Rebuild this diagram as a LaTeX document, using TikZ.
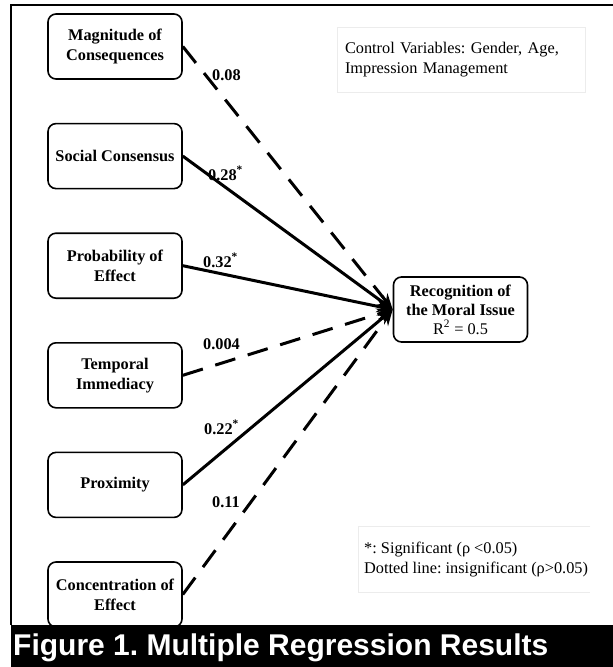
\documentclass[tikz,border=0pt]{standalone}
\usepackage{fontspec}
\setmainfont{Liberation Serif}
\newfontfamily\captionfont{Liberation Sans}
\usepackage{tikz}
\usetikzlibrary{positioning,arrows.meta}
\frenchspacing

\begin{document}
\begin{tikzpicture}[x=1pt,y=-1pt]
    % Colors
    \colorlet{boxgray}{gray!15}

    % Styles
    \tikzstyle{factor}=[draw,line width=1.6pt,rounded corners=8pt,minimum width=134pt,
      minimum height=65pt,align=center,inner sep=2pt,font=\bfseries\fontsize{16.3}{20}\selectfont]
    \tikzstyle{information text}=[align=left,minimum height=65pt,font=\fontsize{16.3}{19.5}\selectfont]
    \tikzstyle{coef}=[anchor=base west,inner sep=0pt,font=\bfseries\fontsize{16.3}{20}\selectfont]
    \tikzstyle{strong link}=[line width=3pt,-{Stealth[length=16pt,width=12pt]}]
    \tikzstyle{weak link}=[strong link,dash pattern=on 21pt off 13pt]

    \useasboundingbox (0,0) rectangle (613,667);
    \fill[white] (0,0) rectangle (613,667);

    % The graphic
    \draw[line width=2pt] (613,5) -- (11,5) -- (11,625);

    \node[factor] (mag) at (115,46.5) {Magnitude of\\Consequences};
    \node[factor,below=43pt of mag] (soc) {Social Consensus};
    \node[factor,below=43pt of soc] (prob) {Probability of\\Effect};
    \node[factor,below=43pt of prob] (temp) {Temporal\\Immediacy};
    \node[factor,below=43pt of temp] (prox) {Proximity};
    \node[factor,below=43pt of prox] (conc) {Concentration of\\Effect};

    \node[factor,font=\fontsize{16.3}{19}\selectfont] (moral) at (460.5,309.5)
      {\textbf{Recognition of}\\\textbf{the Moral Issue}\\R\textsuperscript{2} = 0.5};

    \node[information text,draw=boxgray,line width=0.8pt,minimum width=248pt,
      text width=232pt,inner xsep=8pt] (ctrl) at (461,59.5)
      {Control Variables: Gender, Age,\\Impression Management};

    \node[information text,anchor=west,inner xsep=6pt] (note) at (358,559.5)
      {*: Significant (ρ <0.05)\\Dotted line: insignificant (ρ>0.05)};
    \draw[boxgray,line width=0.8pt] (note.north west) ++(232,0) -- (note.north west)
      -- (note.south west) -- ++(232,0);

    \foreach \from/\kind in {mag/weak link, soc/strong link, prob/strong link,
                             temp/weak link, prox/strong link, conc/weak link}
      \draw[\kind] (\from.east) -- (moral.west);

    \node[coef] (b-mag) at (212,80) {0.08};
    \node[coef] (b-soc) at (208,180) {0.28\textsuperscript{*}};
    \node[coef] (b-prob) at (203,267) {0.32\textsuperscript{*}};
    \node[coef] (b-temp) at (203,349) {0.004};
    \node[coef] (b-prox) at (204,434) {0.22\textsuperscript{*}};
    \node[coef] (b-conc) at (212,507) {0.11};

    \fill (11,625) rectangle (613,667);
    \node[anchor=base west,text=white,inner sep=0pt,
      font=\captionfont\bfseries\fontsize{30}{36}\selectfont] (caption) at (13,655)
      {Figure 1. Multiple Regression Results};
\end{tikzpicture}
\end{document}
